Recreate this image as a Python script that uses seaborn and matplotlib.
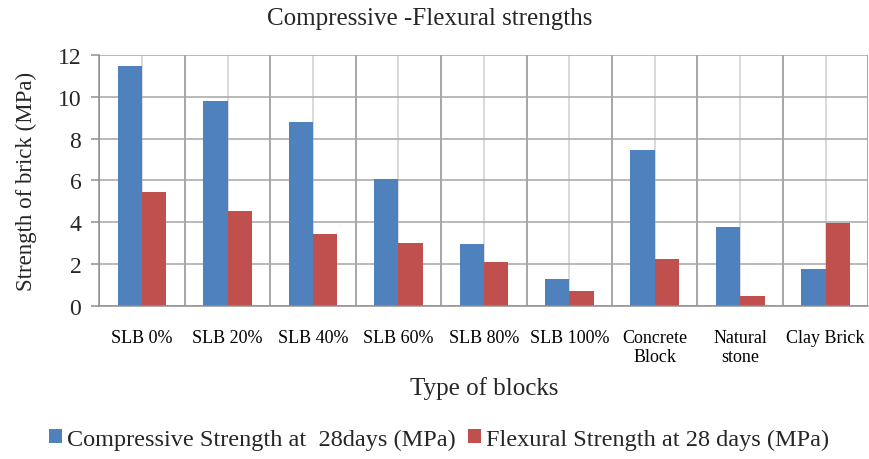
import numpy as np
import pandas as pd
import seaborn as sns
import matplotlib.pyplot as plt
from matplotlib.ticker import FixedLocator

# veriler
blocks = ["SLB 0%", "SLB 20%", "SLB 40%", "SLB 60%", "SLB 80%", "SLB 100%",
          "Concrete\nBlock", "Natural\nstone", "Clay Brick"]
compressive = [11.45, 9.8, 8.8, 6.05, 2.97, 1.32, 7.45, 3.77, 1.78]
flexural = [5.45, 4.56, 3.45, 3.03, 2.1, 0.75, 2.24, 0.48, 3.99]
series = ["Compressive Strength at  28days (MPa)", "Flexural Strength at 28 days (MPa)"]
colors = ["#4F81BD", "#C0504D"]

df = pd.DataFrame({
    "block": blocks * 2,
    "value": compressive + flexural,
    "series": [series[0]] * len(blocks) + [series[1]] * len(blocks),
})

sns.set_theme(style="white")
plt.rcParams["font.family"] = ["Liberation Serif", "DejaVu Serif"]

fig = plt.figure(figsize=(8.69, 4.60), dpi=100)
ax = fig.add_axes([0.1143, 0.332, 0.885, 0.547])

sns.barplot(data=df, x="block", y="value", hue="series", palette=colors,
            width=0.57, gap=0, saturation=1, linewidth=0, ax=ax, legend=True)

ax.set_xlim(-0.5, len(blocks) - 0.5)
ax.set_ylim(0, 12)
ax.set_yticks(range(0, 13, 2))

# kategori sinirlari: koyu grid + tick, kategori ortasi: acik grid
ax.xaxis.set_minor_locator(FixedLocator(np.arange(-0.5, len(blocks), 1.0)))
ax.grid(axis="y", color="#a6a6a6", linewidth=1.1)
ax.grid(axis="x", which="major", color="#cfcfcf", linewidth=1.1)
ax.grid(axis="x", which="minor", color="#8f8f8f", linewidth=1.1)
ax.set_axisbelow(True)

ax.tick_params(axis="x", which="major", length=0, pad=16, labelsize=13, colors="black")
ax.tick_params(axis="x", which="minor", length=6, width=1.1, color="#8f8f8f", direction="out")
ax.tick_params(axis="y", length=6, width=1.1, color="#8f8f8f", left=True, labelsize=17, pad=7)

for side in ["top", "right"]:
    ax.spines[side].set_visible(False)
for side in ["left", "bottom"]:
    ax.spines[side].set_color("#8f8f8f")
    ax.spines[side].set_linewidth(1.1)

ax.set_xlabel("Type of blocks", fontsize=18, labelpad=8)
ax.set_ylabel("Strength of brick (MPa)", fontsize=16.5)
ax.yaxis.set_label_coords(-0.081, 0.5)
ax.set_title("")
fig.text(0.495, 1 - 19 / 460, "Compressive -Flexural strengths", fontsize=18,
         ha="center", va="center")

handles, labels = ax.get_legend_handles_labels()
ax.legend_.remove()
fig.legend(handles, labels, loc="center", bbox_to_anchor=(0.505, 1 - 440 / 460),
           ncol=2, frameon=False, fontsize=17.5, handlelength=0.55, handleheight=0.55,
           handletextpad=0.2, columnspacing=0.5, borderaxespad=0)

plt.savefig("out.png", dpi=100)
